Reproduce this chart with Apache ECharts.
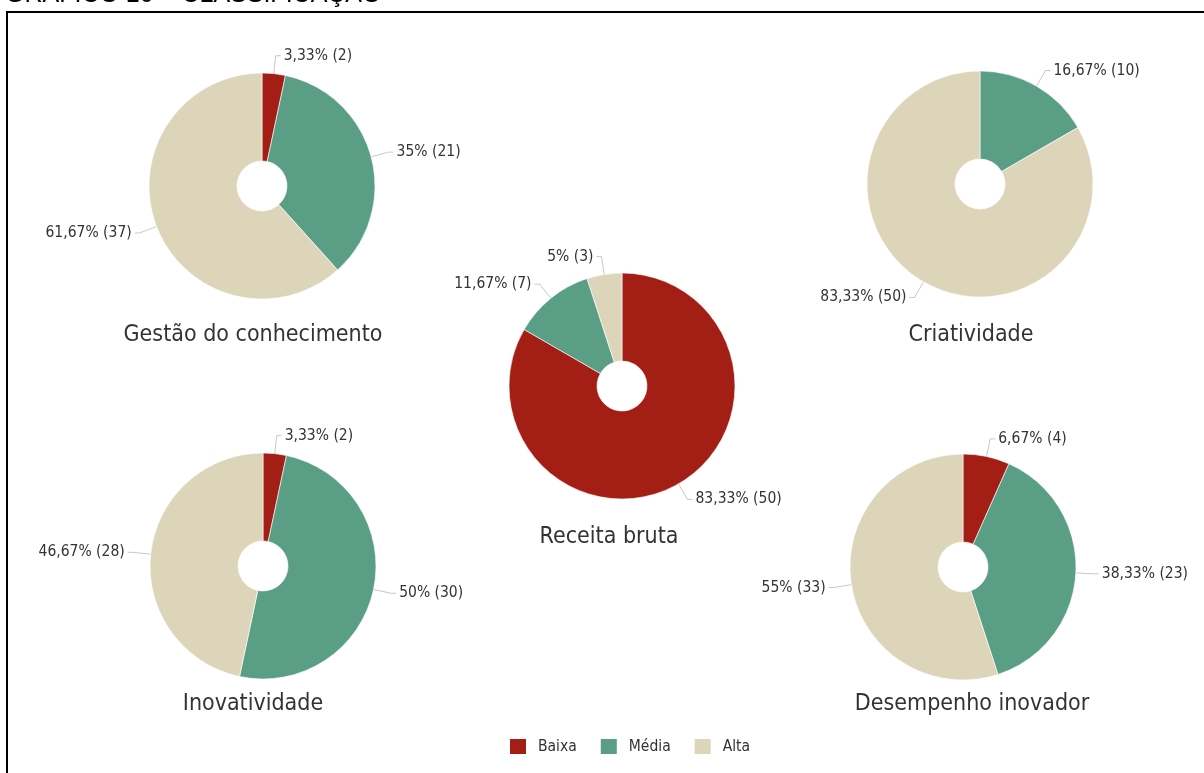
<!DOCTYPE html>
<html>
<head>
<meta charset="utf-8">
<script src="https://cdn.jsdelivr.net/npm/echarts@6/dist/echarts.min.js"></script>
<style>
  html, body { margin: 0; padding: 0; background: #fff; }
  #chart { width: 1204px; height: 773px; }
</style>
</head>
<body>
<div id="chart"></div>
<script>
// Classification levels and the count of firms in each level, per dimension
const categories = ['Baixa', 'Média', 'Alta'];
const panels = ['Gestão do conhecimento', 'Receita bruta', 'Criatividade', 'Inovatividade', 'Desempenho inovador'];
const gestao = [2, 21, 37];
const receita = [50, 7, 3];
const criatividade = [0, 10, 50];
const inovatividade = [2, 30, 28];
const desempenho = [4, 23, 33];
const counts = [gestao, receita, criatividade, inovatividade, desempenho];

// Layout
const colors = ['#a31f16', '#5a9e85', '#ddd5b9'];
const centers = [[262, 186], [622, 386], [980, 184], [263, 566], [963, 567]];
const captionPos = [[253, 335], [609, 537], [971, 335], [253, 704], [972, 704]];
const FONT = '"DejaVu Sans Condensed", "Liberation Sans Narrow", "DejaVu Sans", sans-serif';

const fmtPct = v => (Math.round(v * 100) / 100).toString().replace('.', ',');

const chart = echarts.init(document.getElementById('chart'), null, { renderer: 'canvas' });

const series = counts.map((vals, i) => ({
  type: 'pie',
  name: panels[i],
  center: centers[i],
  radius: [25, 113],
  startAngle: 90,
  clockwise: true,
  avoidLabelOverlap: true,
  emphasis: { disabled: true },
  itemStyle: { borderColor: '#ffffff', borderWidth: 0.6 },
  label: {
    show: true,
    position: 'outside',
    formatter: p => fmtPct(p.percent) + '% (' + p.value + ')',
    color: '#333',
    fontSize: 15.5,
    fontFamily: FONT,
    distanceToLabelLine: 3
  },
  labelLine: { show: true, length: 18, length2: 5, smooth: false, lineStyle: { color: '#c8c8c8', width: 1 } },
  data: categories
    .map((c, k) => ({ name: c, value: vals[k], itemStyle: { color: colors[k] } }))
    .filter(d => d.value > 0)
}));

const captions = panels.map((t, i) => ({
  type: 'text',
  x: captionPos[i][0],
  y: captionPos[i][1],
  style: {
    text: t,
    font: '23px ' + FONT,
    fill: '#333',
    align: 'center',
    verticalAlign: 'middle'
  }
}));

chart.setOption({
  animation: false,
  backgroundColor: '#fff',
  legend: {
    data: categories,
    left: 508,
    top: 737,
    padding: 0,
    itemWidth: 18,
    itemHeight: 17,
    itemGap: 22,
    icon: 'rect',
    selectedMode: false,
    textStyle: { fontSize: 15.5, color: '#333', fontFamily: FONT, padding: [0, 0, 0, 6] }
  },
  graphic: [
    {
      type: 'rect',
      shape: { x: 7, y: 12, width: 1300, height: 900 },
      style: { fill: 'none', stroke: '#000', lineWidth: 2 },
      silent: true
    },
    {
      type: 'text',
      x: 5,
      y: -5,
      style: {
        text: 'GRÁFICO 10 – CLASSIFICAÇÃO',
        font: '25px "Liberation Sans", Arial, sans-serif',
        fill: '#000',
        align: 'left',
        verticalAlign: 'middle'
      }
    },
    ...captions
  ],
  series: series
});
</script>
</body>
</html>
